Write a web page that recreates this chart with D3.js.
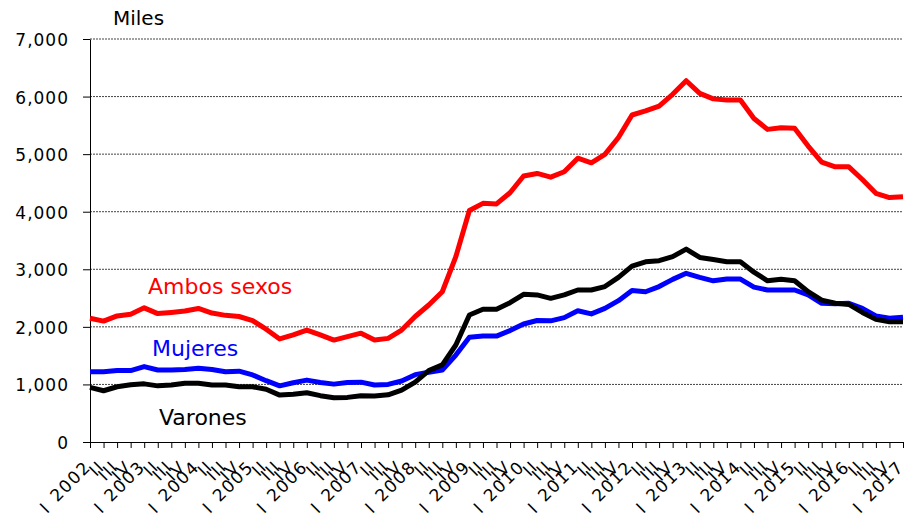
<!DOCTYPE html>
<html><head><meta charset="utf-8">
<script src="https://cdn.jsdelivr.net/npm/d3@7/dist/d3.min.js"></script>
<style>
body{margin:0;background:#fff}
text{font-family:"DejaVu Sans",Verdana,sans-serif}
</style>
</head><body>
<svg id="chart" width="921" height="517"></svg>
<script>
const years = ["2002","2003","2004","2005","2006","2007","2008","2009","2010","2011","2012","2013","2014","2015","2016","2017"];
const quarters = ["I","II","III","IV"];
const categories = [];
years.forEach(yr => quarters.forEach(q => { if (categories.length < 61) categories.push({year: yr, q: q}); }));

const ambosSexos = [2150,2100,2190,2220,2330,2230,2250,2275,2320,2240,2200,2180,2110,1960,1790,1860,1945,1860,1770,1830,1890,1770,1800,1945,2180,
  2380,2610,3220,4020,4145,4135,4330,4620,4665,4600,4695,4930,
  4850,4995,5290,5680,5750,5835,6040,6275,6055,5960,5940,5940,
  5620,5430,5460,5450,5140,4860,4780,4780,4560,4320,4245,4260];
const varones = [950,890,960,995,1010,975,990,1020,1020,990,990,960,960,915,815,830,855,805,770,775,805,800,
  820,900,1040,1240,1340,1685,2205,2305,2305,2420,2565,2555,2495,2555,2640,
  2640,2700,2860,3055,3130,3150,3220,3350,3205,3170,3130,3130,
  2950,2800,2825,2800,2610,2465,2410,2390,2250,2130,2090,2090];
const mujeres = [1220,1220,1240,1240,1310,1250,1250,1260,1280,1260,1220,1230,1165,1065,975,1030,1075,1035,1005,1035,1040,990,
  1000,1060,1170,1210,1250,1510,1820,1840,1840,1935,2050,2110,2105,2160,2280,
  2225,2320,2455,2630,2610,2700,2825,2930,2860,2800,2830,2830,
  2690,2640,2640,2640,2555,2410,2400,2410,2320,2190,2150,2165];
const yTicks = [0,1000,2000,3000,4000,5000,6000,7000];

const svg = d3.select("#chart");
const mLeft = 90, mRight = 903, mTop = 39, mBottom = 442;
const keys = categories.map((c,i) => i);
const x = d3.scalePoint().domain(keys).range([mLeft, mRight]);
const y = d3.scaleLinear().domain([0, 7000]).range([mBottom, mTop]);

// gridlines
svg.append("g").selectAll("line").data(yTicks.filter(d => d > 0)).join("line")
  .attr("x1", mLeft).attr("x2", mRight)
  .attr("y1", d => y(d)).attr("y2", d => y(d))
  .attr("stroke", "#444").attr("stroke-width", 1).attr("stroke-dasharray", "2,1");

// y axis
const ya = svg.append("g").attr("transform", `translate(${mLeft},0)`)
  .call(d3.axisLeft(y).tickValues(yTicks).tickFormat(d3.format(",")).tickSize(7).tickSizeOuter(0).tickPadding(14));
ya.select(".domain").attr("stroke", "#000");
ya.selectAll(".tick line").attr("stroke", "#000");
ya.selectAll(".tick text").attr("font-size", 17).attr("fill", "#000")
  .attr("font-family", "DejaVu Sans").style("letter-spacing", "1px").attr("dy", "0.38em");

// x axis
const xa = svg.append("g").attr("transform", `translate(0,${mBottom})`)
  .call(d3.axisBottom(x).tickSize(6).tickSizeOuter(0).tickFormat(""));
xa.select(".domain").attr("stroke", "#000");
xa.selectAll(".tick line").attr("stroke", "#000");

// x labels
const lab = svg.append("g").selectAll("g").data(keys).join("g")
  .attr("transform", i => `translate(${x(i) + 2},${mBottom + 26}) rotate(-45)`);
lab.append("text")
  .attr("text-anchor", "end").attr("font-size", 17).style("letter-spacing", "1.5px")
  .text(i => categories[i].q === "I" ? categories[i].year : categories[i].q);
lab.filter(i => categories[i].q === "I").append("text")
  .attr("x", -62).attr("y", 1).attr("text-anchor", "middle").attr("font-size", 17)
  .text("I");

// lines
const line = d3.line().x((d, i) => x(i)).y(d => y(d));
const series = [
  {name: "Ambos sexos", values: ambosSexos, color: "#ff0000"},
  {name: "Mujeres", values: mujeres, color: "#0000ff"},
  {name: "Varones", values: varones, color: "#000000"}
];
svg.append("g").selectAll("path").data(series).join("path")
  .attr("d", s => line(s.values))
  .attr("fill", "none").attr("stroke", s => s.color)
  .attr("stroke-width", 5).attr("stroke-linejoin", "round");

// labels
svg.append("text").attr("x", 113).attr("y", 25).attr("font-size", 20).attr("fill", "#000").text("Miles");
svg.append("text").attr("x", 148).attr("y", 294).attr("font-size", 22).attr("fill", "#ff0000").text("Ambos sexos");
svg.append("text").attr("x", 152).attr("y", 356).attr("font-size", 22).attr("fill", "#0000ff").text("Mujeres");
svg.append("text").attr("x", 159).attr("y", 425).attr("font-size", 22).attr("fill", "#000").text("Varones");
</script>
</body></html>
